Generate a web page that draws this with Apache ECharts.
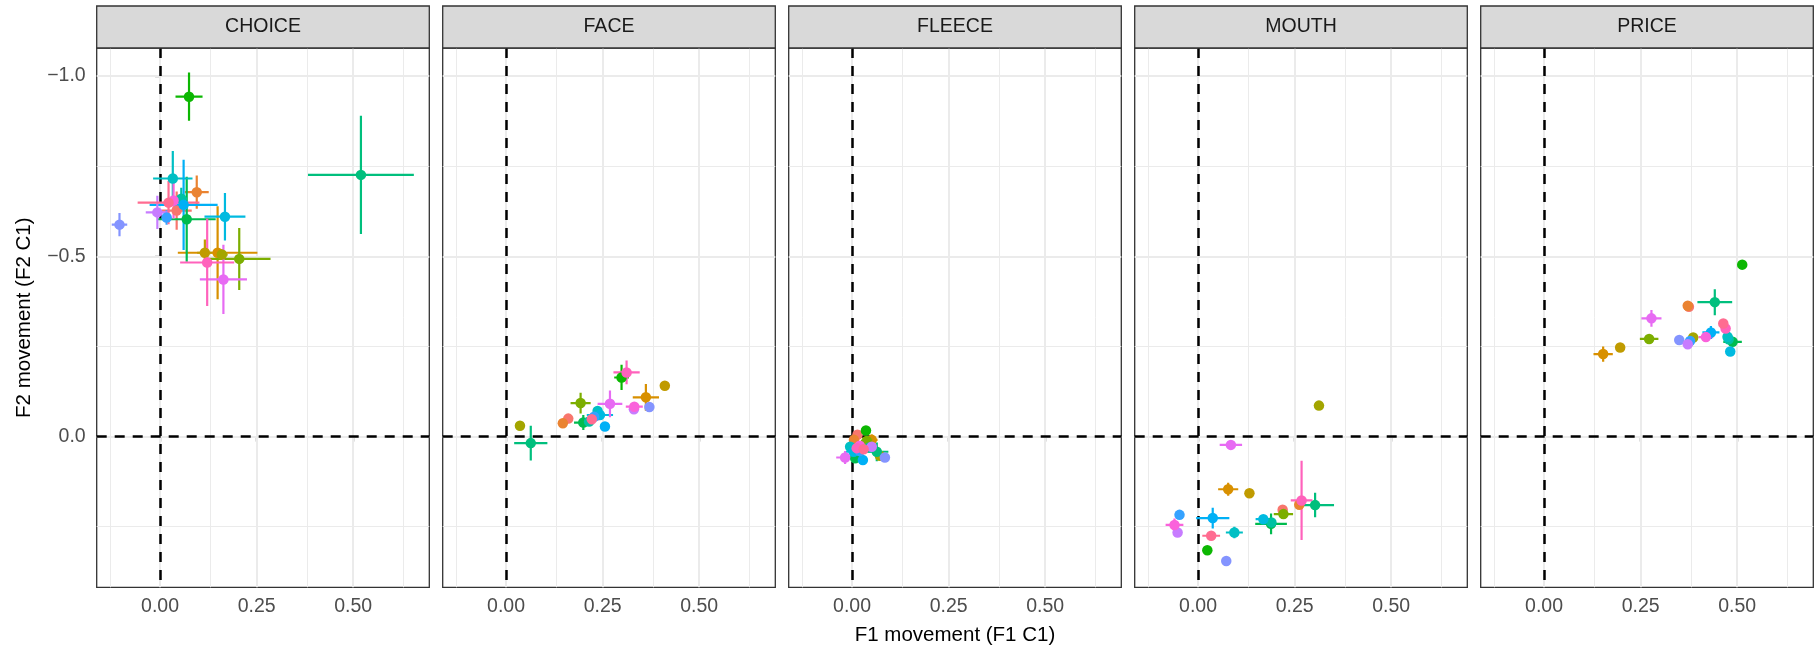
<!DOCTYPE html>
<html>
<head>
<meta charset="utf-8">
<title>F1/F2 movement</title>
<script src="https://cdn.jsdelivr.net/npm/echarts@6/dist/echarts.min.js"></script>
<style>
  html, body { margin: 0; padding: 0; background: #ffffff; }
  #main { width: 1817px; height: 654px; }
</style>
</head>
<body>
<div id="main"></div>
<script type="text/javascript">
// facet names and one colour per speaker group (ggplot hue palette)
var facets = ['CHOICE', 'FACE', 'FLEECE', 'MOUTH', 'PRICE'];
var groupColors = ['#F8766D', '#EA8331', '#D89000', '#C09B00', '#A3A500', '#7CAE00', '#0CB702', '#00BB4E', '#00BF7D', '#00C1A3',
                   '#00BFC4', '#00BAE0', '#00B0F6', '#35A2FF', '#8494FF', '#C77CFF', '#E76BF3', '#FA62DB', '#FF62BC', '#FF6C91'];

// F1 movement (x), F2 movement (y), and half-widths of the error bars, per facet
var choiceX    = [0.043, 0.095, 0.149, 0.116, 0.160, 0.205, 0.075, 0.069, 0.520, 0.055, 0.033, 0.168, 0.061, 0.017, -0.105, -0.007, 0.164, 0.035, 0.122, 0.022];
var choiceY    = [-0.627, -0.678, -0.510, -0.510, -0.505, -0.493, -0.943, -0.603, -0.726, -0.660, -0.716, -0.610, -0.643, -0.608, -0.588, -0.622, -0.436, -0.655, -0.483, -0.649];
var choiceXerr = [0.039, 0.031, 0.103, 0.020, 0.015, 0.081, 0.035, 0.075, 0.137, 0.015, 0.051, 0.053, 0.088, 0.012, 0.020, 0.030, 0.061, 0.020, 0.070, 0.080];
var choiceYerr = [0.053, 0.046, 0.129, 0.037, 0.015, 0.086, 0.067, 0.118, 0.164, 0.030, 0.076, 0.066, 0.125, 0.020, 0.032, 0.046, 0.096, 0.050, 0.121, 0.060];

var faceX    = [0.161, 0.147, 0.362, 0.411, 0.036, 0.193, 0.299, 0.200, 0.064, 0.215, 0.237, 0.243, 0.256, 0.228, 0.371, 0.331, 0.269, 0.332, 0.312, 0.222];
var faceY    = [-0.050, -0.037, -0.109, -0.141, -0.030, -0.093, -0.164, -0.039, 0.018, -0.042, -0.071, -0.060, -0.028, -0.055, -0.082, -0.076, -0.091, -0.083, -0.178, -0.048];
var faceXerr = [0, 0, 0.034, 0, 0, 0.026, 0.019, 0.024, 0.043, 0, 0, 0.034, 0, 0, 0, 0, 0.032, 0.022, 0.034, 0.019];
var faceYerr = [0, 0, 0.037, 0, 0, 0.029, 0.035, 0.021, 0.048, 0, 0, 0.010, 0, 0, 0, 0, 0.037, 0.008, 0.033, 0.006];

var fleeceX    = [0.014, 0.005, 0.051, 0.042, 0.072, 0.038, 0.036, 0.008, 0.064, 0.045, -0.005, 0.004, 0.028, 0.020, 0.085, 0.051, -0.018, 0.020, 0.012, 0.030];
var fleeceY    = [-0.005, 0.009, 0.009, 0.014, 0.053, 0.012, -0.017, 0.060, 0.042, 0.030, 0.028, 0.042, 0.065, 0.040, 0.058, 0.028, 0.058, 0.025, 0.032, 0.035];
var fleeceXerr = [0, 0.010, 0.015, 0, 0, 0.015, 0, 0, 0.030, 0.015, 0, 0.020, 0, 0, 0, 0, 0.023, 0.025, 0.024, 0.025];
var fleeceYerr = [0, 0.010, 0.015, 0, 0, 0.012, 0, 0, 0.026, 0.010, 0, 0.010, 0, 0, 0, 0, 0.018, 0.010, 0.012, 0.010];

var mouthX    = [0.219, 0.262, 0.078, 0.133, 0.313, 0.221, 0.024, 0.189, 0.303, 0.190, 0.094, 0.169, 0.038, -0.048, 0.073, -0.053, 0.085, -0.061, 0.268, 0.034];
var mouthY    = [0.203, 0.189, 0.146, 0.157, -0.086, 0.215, 0.315, 0.242, 0.190, 0.238, 0.266, 0.229, 0.226, 0.217, 0.345, 0.266, 0.023, 0.245, 0.177, 0.275];
var mouthXerr = [0, 0, 0.026, 0, 0, 0.025, 0, 0.041, 0.049, 0, 0.022, 0.020, 0.043, 0, 0, 0, 0.029, 0.023, 0.028, 0.023];
var mouthYerr = [0, 0, 0.018, 0, 0, 0.010, 0, 0.029, 0.034, 0, 0.016, 0.008, 0.029, 0, 0, 0, 0.012, 0.018, 0.110, 0.012];

var priceX    = [0.375, 0.372, 0.153, 0.197, 0.386, 0.272, 0.513, 0.488, 0.442, 0.478, 0.475, 0.482, 0.432, 0.378, 0.350, 0.372, 0.278, 0.419, 0.470, 0.464];
var priceY    = [-0.360, -0.363, -0.229, -0.247, -0.275, -0.271, -0.477, -0.263, -0.373, -0.270, -0.277, -0.236, -0.289, -0.265, -0.268, -0.256, -0.328, -0.276, -0.300, -0.314];
var priceXerr = [0, 0, 0.025, 0, 0, 0.024, 0, 0.024, 0.045, 0, 0, 0, 0.022, 0, 0, 0, 0.026, 0.019, 0, 0];
var priceYerr = [0, 0, 0.021, 0, 0, 0.012, 0, 0.010, 0.036, 0, 0, 0, 0.018, 0, 0, 0, 0.023, 0.008, 0, 0];

// axis ticks / grid lines
var xTicks = [0, 0.25, 0.5];
var xMinor = [-0.125, 0.125, 0.375, 0.625];
var yTicks = [-1, -0.5, 0];
var yMinor = [-0.75, -0.25, 0.25];

var facetData = [
  [choiceX, choiceY, choiceXerr, choiceYerr],
  [faceX, faceY, faceXerr, faceYerr],
  [fleeceX, fleeceY, fleeceXerr, fleeceYerr],
  [mouthX, mouthY, mouthXerr, mouthYerr],
  [priceX, priceY, priceXerr, priceYerr]
];

var FONT = "'Liberation Sans', Arial, Helvetica, sans-serif";
var panelLeft = 96.7, panelStep = 346, panelWidth = 332.6, panelTop = 48, panelHeight = 539.3;

var myChart = echarts.init(document.getElementById('main'), null, { renderer: 'canvas' });

var grids = [], xAxes = [], yAxes = [], series = [], graphics = [];

function fmtMinus(v, d) {
  return (v < 0 ? '\u2212' : '') + Math.abs(v).toFixed(d);
}

facets.forEach(function (name, k) {
  var left = panelLeft + k * panelStep;
  grids.push({
    left: left, top: panelTop, width: panelWidth, height: panelHeight,
    show: true, backgroundColor: '#ffffff', borderColor: '#333333', borderWidth: 1.3
  });
  xAxes.push({
    type: 'value', gridIndex: k, min: -0.164, max: 0.697,
    axisLine: { show: false },
    splitLine: { show: false },
    axisTick: { show: true, length: 5, customValues: xTicks, lineStyle: { color: '#333333', width: 1.3 } },
    axisLabel: {
      show: true, customValues: xTicks, margin: 9, color: '#4D4D4D', fontSize: 19.5, fontFamily: FONT,
      formatter: function (v) { return fmtMinus(v, 2); }
    }
  });
  yAxes.push({
    type: 'value', gridIndex: k, min: -1.078, max: 0.418, inverse: true,
    axisLine: { show: false },
    splitLine: { show: false },
    axisTick: { show: k === 0, length: 5, customValues: yTicks, lineStyle: { color: '#333333', width: 1.3 } },
    axisLabel: {
      show: k === 0, customValues: yTicks, margin: 11, color: '#4D4D4D', fontSize: 19.5, fontFamily: FONT,
      formatter: function (v) { return fmtMinus(v, 1); }
    }
  });

  var d = facetData[k];
  var rows = d[0].map(function (x, i) { return [x, d[1][i], d[2][i], d[3][i], i]; });

  // grid lines and the dashed zero lines
  var lines = [];
  xMinor.forEach(function (v) { lines.push({ xAxis: v, lineStyle: { color: '#EBEBEB', width: 1, type: 'solid' } }); });
  yMinor.forEach(function (v) { lines.push({ yAxis: v, lineStyle: { color: '#EBEBEB', width: 1, type: 'solid' } }); });
  xTicks.forEach(function (v) { lines.push({ xAxis: v, lineStyle: { color: '#EBEBEB', width: 2, type: 'solid' } }); });
  yTicks.forEach(function (v) { lines.push({ yAxis: v, lineStyle: { color: '#EBEBEB', width: 2, type: 'solid' } }); });
  lines.push({ xAxis: 0, lineStyle: { color: '#000000', width: 2.5, type: [10, 8] } });
  lines.push({ yAxis: 0, lineStyle: { color: '#000000', width: 2.5, type: [10, 8] } });

  series.push({
    type: 'custom', name: name + ' bars', xAxisIndex: k, yAxisIndex: k, z: 2, clip: true,
    data: rows,
    renderItem: function (params, api) {
      var x = api.value(0), y = api.value(1), xe = api.value(2), ye = api.value(3);
      var color = groupColors[api.value(4)];
      var children = [];
      if (xe > 0) {
        var a = api.coord([x - xe, y]), b = api.coord([x + xe, y]);
        children.push({ type: 'line', shape: { x1: a[0], y1: a[1], x2: b[0], y2: b[1] }, style: { stroke: color, lineWidth: 2.2 } });
      }
      if (ye > 0) {
        var c = api.coord([x, y - ye]), e = api.coord([x, y + ye]);
        children.push({ type: 'line', shape: { x1: c[0], y1: c[1], x2: e[0], y2: e[1] }, style: { stroke: color, lineWidth: 2.2 } });
      }
      return { type: 'group', children: children };
    },
    markLine: {
      silent: true, z: 1, symbol: ['none', 'none'], label: { show: false },
      emphasis: { disabled: true }, animation: false,
      data: lines
    }
  });

  series.push({
    type: 'scatter', name: name, xAxisIndex: k, yAxisIndex: k, z: 3,
    symbol: 'circle', symbolSize: 10.5,
    data: rows.map(function (r) {
      return { value: [r[0], r[1]], itemStyle: { color: groupColors[r[4]], opacity: 1 } };
    })
  });

  // facet strip
  graphics.push({
    type: 'rect', z: 10,
    shape: { x: left, y: 6, width: panelWidth, height: panelTop - 6 },
    style: { fill: '#D9D9D9', stroke: '#333333', lineWidth: 1.3 }
  });
  graphics.push({
    type: 'text', z: 11, x: left + panelWidth / 2, y: (6 + panelTop) / 2,
    style: { text: name, fill: '#1A1A1A', font: '19.5px ' + FONT, textAlign: 'center', textVerticalAlign: 'middle' }
  });
});

// axis titles
graphics.push({
  type: 'text', x: panelLeft + (4 * panelStep + panelWidth) / 2, y: 635,
  style: { text: 'F1 movement (F1 C1)', fill: '#000000', font: '20.5px ' + FONT, textAlign: 'center', textVerticalAlign: 'middle' }
});
graphics.push({
  type: 'text', x: 24, y: panelTop + panelHeight / 2, rotation: Math.PI / 2,
  style: { text: 'F2 movement (F2 C1)', fill: '#000000', font: '20.5px ' + FONT, textAlign: 'center', textVerticalAlign: 'middle' }
});

var option = {
  animation: false,
  backgroundColor: '#ffffff',
  grid: grids,
  xAxis: xAxes,
  yAxis: yAxes,
  series: series,
  graphic: graphics
};
myChart.setOption(option);
</script>
</body>
</html>
